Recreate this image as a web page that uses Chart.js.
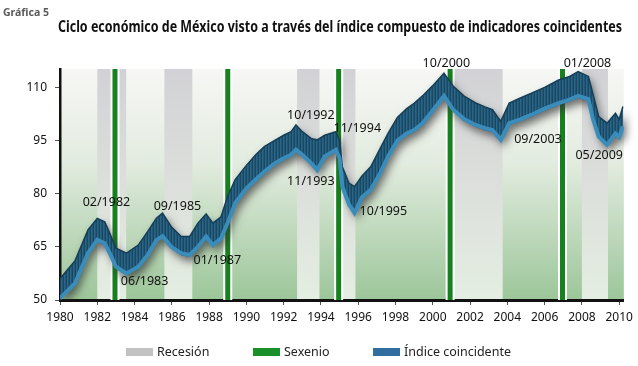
<!DOCTYPE html>
<html lang="es">
<head>
<meta charset="utf-8">
<script src="https://cdn.jsdelivr.net/npm/chart.js@4/dist/chart.umd.min.js"></script>
<style>
  body { margin: 0; background: #fff; }
  #caja { width: 638px; height: 366px; }
</style>
</head>
<body>
<div id="caja"><canvas id="ciclo" width="638" height="366"></canvas></div>
<script>
// datos (año decimal, borde superior e inferior de la banda del indice)
var anios = [1980.0, 1980.8, 1981.5, 1982.0, 1982.4, 1982.67, 1983.0, 1983.57, 1984.2, 1984.7,
  1985.17, 1985.5, 1985.97, 1986.5, 1986.95, 1987.4, 1987.84, 1988.2, 1988.64, 1988.99,
  1989.4, 1990.0, 1990.5, 1990.96, 1991.5, 1992.0, 1992.4, 1992.66, 1993.0, 1993.5,
  1993.8, 1994.2, 1994.8, 1995.0, 1995.15, 1995.5, 1995.8, 1996.2, 1996.67, 1997.2,
  1997.6, 1998.1, 1998.6, 1999.0, 1999.45, 2000.0, 2000.6, 2001.1, 2001.7, 2002.3,
  2002.8, 2003.2, 2003.65, 2004.1, 2004.7, 2005.3, 2006.0, 2006.75, 2007.3, 2007.8,
  2008.35, 2008.6, 2008.9, 2009.35, 2009.8, 2010.0, 2010.2];
var indiceAlto = [56, 61, 69.8, 73, 72.1, 68.8, 64.6, 63.2, 65.5, 69.3,
  73.1, 74.5, 70.7, 67.9, 67.9, 71.7, 74.3, 71.7, 73.5, 79.2,
  84, 88, 91, 93.3, 95, 96.5, 97.5, 99.4, 97.5, 95.5,
  95.2, 96.5, 97.5, 95, 87.6, 83, 82, 85, 87.6, 93,
  97, 101.5, 104, 105.5, 107.6, 110.5, 114, 110.3, 107.5, 105.6,
  104.5, 103.7, 100.4, 105.6, 107, 108.4, 110, 112.1, 113, 114.5,
  113.1, 108, 101.8, 99.9, 102.7, 101, 104.6];
var indiceBajo = [50.5, 54.7, 63.2, 67, 66, 63.2, 59.4, 57.5, 59.4, 62.7,
  66.9, 68, 65, 63.2, 62.7, 65, 67.9, 65.5, 67.4, 71.7,
  77.4, 81.5, 84, 86.2, 88.5, 90, 91, 92.4, 91, 88.5,
  86.7, 90.5, 92.4, 90, 82, 77, 74.6, 79, 81.1, 86,
  90.5, 95, 97, 98, 99.9, 103.5, 107.6, 103.7, 101, 99.4,
  98.5, 98, 95.2, 99.9, 101, 102.3, 104, 105.6, 106.5, 107.6,
  106.7, 101, 96.1, 93.8, 97, 96, 99];

var recesiones = [[1982.0, 1983.55], [1985.6, 1987.1], [1992.72, 1993.92], [1995.1, 1995.85], [2001.1, 2003.75], [2008.0, 2009.4]];
var sexenios = [1982.95, 1989.0, 1994.95, 2000.93, 2006.96];

var ticksX = [1980, 1982, 1984, 1986, 1988, 1990, 1992, 1994, 1996, 1998, 2000, 2002, 2004, 2006, 2008, 2010];
var ticksY = [50, 65, 80, 95, 110];

var etiquetas = ['02/1982', '06/1983', '09/1985', '01/1987', '10/1992', '11/1993', '11/1994', '10/1995', '10/2000', '09/2003', '01/2008', '05/2009'];
var posEtiquetas = [[1982.49, 77.4], [1984.54, 55.1], [1986.3, 76.3], [1988.44, 61.3], [1993.46, 102.2], [1993.46, 83.6],
  [1995.95, 98.4], [1997.35, 75.1], [2000.73, 116.9], [2005.64, 95.3], [2008.3, 116.9], [2008.93, 90.9]];

var titulo = 'Ciclo económico de México visto a través del índice compuesto de indicadores coincidentes';
var fuente = 'Noto Sans';

var puntosAlto = anios.map(function (a, i) { return { x: a, y: indiceAlto[i] }; });
var puntosBajo = anios.map(function (a, i) { return { x: a, y: indiceBajo[i] }; });

// textura rayada para la banda del indice
var tex = document.createElement('canvas');
tex.width = 3; tex.height = 1;
var tctx = tex.getContext('2d');
tctx.fillStyle = '#1a4762'; tctx.fillRect(0, 0, 1, 1);
tctx.fillStyle = '#2a6586'; tctx.fillRect(1, 0, 1, 1);
tctx.fillStyle = '#215878'; tctx.fillRect(2, 0, 1, 1);
var patron = tctx.createPattern(tex, 'repeat');

var fondo = {
  id: 'fondo',
  beforeDraw: function (chart) {
    var ctx = chart.ctx, a = chart.chartArea, x = chart.scales.x;
    ctx.save();
    var g = ctx.createLinearGradient(0, a.top, 0, a.bottom);
    g.addColorStop(0, '#f7f7f5');
    g.addColorStop(0.4, '#e3ece0');
    g.addColorStop(1, '#9cc699');
    ctx.fillStyle = g;
    ctx.fillRect(a.left, a.top, a.right - a.left, a.bottom - a.top);
    var gr = ctx.createLinearGradient(0, a.top, 0, a.bottom);
    gr.addColorStop(0, '#d2d2d6');
    gr.addColorStop(0.5, '#dcdfdb');
    gr.addColorStop(1, '#e4eee2');
    ctx.fillStyle = gr;
    recesiones.forEach(function (r) {
      var x0 = x.getPixelForValue(r[0]), x1 = x.getPixelForValue(r[1]);
      ctx.fillRect(x0, a.top, x1 - x0, a.bottom - a.top);
    });
    ctx.restore();
  },
  beforeDatasetsDraw: function (chart) {
    var ctx = chart.ctx, a = chart.chartArea, x = chart.scales.x;
    ctx.save();
    sexenios.forEach(function (s) {
      var px = x.getPixelForValue(s);
      ctx.fillStyle = '#ffffff';
      ctx.fillRect(px - 4.5, a.top, 9, a.bottom - a.top);
      ctx.fillStyle = '#17801f';
      ctx.fillRect(px - 2.5, a.top, 5, a.bottom - a.top);
    });
    // sombra de la banda, con los puntos ya ubicados por las escalas
    var alto = chart.getDatasetMeta(0).data, bajo = chart.getDatasetMeta(1).data;
    ctx.beginPath();
    ctx.rect(a.left, a.top - 20, a.right - a.left + 12, a.bottom - a.top + 20);
    ctx.clip();
    ctx.beginPath();
    alto.forEach(function (p, i) { if (i === 0) ctx.moveTo(p.x, p.y); else ctx.lineTo(p.x, p.y); });
    for (var i = bajo.length - 1; i >= 0; i--) ctx.lineTo(bajo[i].x, bajo[i].y + 2);
    ctx.closePath();
    ctx.shadowColor = 'rgba(50,50,50,0.7)';
    ctx.shadowBlur = 9;
    ctx.shadowOffsetX = 3;
    ctx.shadowOffsetY = 5;
    ctx.fillStyle = '#215878';
    ctx.fill();
    ctx.restore();
  },
  afterDraw: function (chart) {
    var ctx = chart.ctx, x = chart.scales.x, y = chart.scales.y;
    ctx.save();
    // etiquetas de fechas
    ctx.font = '12.5px "' + fuente + '"';
    ctx.fillStyle = '#111';
    ctx.textAlign = 'center';
    ctx.textBaseline = 'middle';
    etiquetas.forEach(function (t, i) {
      ctx.fillText(t, x.getPixelForValue(posEtiquetas[i][0]), y.getPixelForValue(posEtiquetas[i][1]));
    });
    // encabezados
    ctx.textAlign = 'left';
    ctx.textBaseline = 'alphabetic';
    ctx.fillStyle = '#5a5a5a';
    ctx.font = 'bold 10.5px "' + fuente + '"';
    ctx.fillText('Gráfica 5', 3, 16);
    ctx.fillStyle = '#111';
    ctx.font = 'bold 16.5px "' + fuente + '"';
    ctx.fillText(titulo, 58, 32, 564);
    // leyenda
    var items = [
      { t: 'Recesión', c: '#c2c2c2', x: 126 },
      { t: 'Sexenio', c: '#19902a', x: 253 },
      { t: 'Índice coincidente', c: '#2f6e9e', x: 373 }
    ];
    ctx.font = '12.5px "' + fuente + '"';
    ctx.textBaseline = 'middle';
    items.forEach(function (it) {
      ctx.fillStyle = it.c;
      ctx.fillRect(it.x, 348, 27, 8);
      ctx.fillStyle = '#222';
      ctx.fillText(it.t, it.x + 31, 352.5);
    });
    ctx.restore();
  }
};

new Chart(document.getElementById('ciclo').getContext('2d'), {
  type: 'line',
  data: {
    datasets: [{
      label: 'Índice coincidente',
      data: puntosAlto,
      borderColor: '#163e57',
      borderWidth: 1.5,
      backgroundColor: patron,
      fill: '+1',
      order: 2
    }, {
      label: 'base',
      data: puntosBajo,
      borderColor: '#3a8dbb',
      borderWidth: 4,
      fill: false,
      order: 1
    }]
  },
  options: {
    responsive: false,
    animation: false,
    layout: { padding: { top: 69, right: 12, bottom: 31, left: 0 } },
    elements: { point: { radius: 0 }, line: { tension: 0 } },
    plugins: { legend: { display: false }, tooltip: { enabled: false } },
    scales: {
      x: {
        type: 'linear', min: 1980, max: 2010.25,
        afterBuildTicks: function (s) { s.ticks = ticksX.map(function (v) { return { value: v }; }); },
        afterFit: function (s) { s.height = 35; },
        ticks: { padding: 5, color: '#111', autoSkip: false, maxRotation: 0, font: { family: fuente, size: 12 },
          callback: function (v) { return String(v); } },
        grid: { drawOnChartArea: false, tickLength: 5, color: '#555', lineWidth: 1 },
        border: { color: '#111', width: 3 }
      },
      y: {
        min: 50, max: 115.2,
        afterBuildTicks: function (s) { s.ticks = ticksY.map(function (v) { return { value: v }; }); },
        afterFit: function (s) { s.width = 60; },
        ticks: { padding: 8, color: '#111', font: { family: fuente, size: 12 },
          callback: function (v) { return String(v); } },
        grid: { drawOnChartArea: false, tickLength: 5, color: '#555', lineWidth: 1 },
        border: { color: '#111', width: 2.5 }
      }
    }
  },
  plugins: [fondo]
});
</script>
</body>
</html>
